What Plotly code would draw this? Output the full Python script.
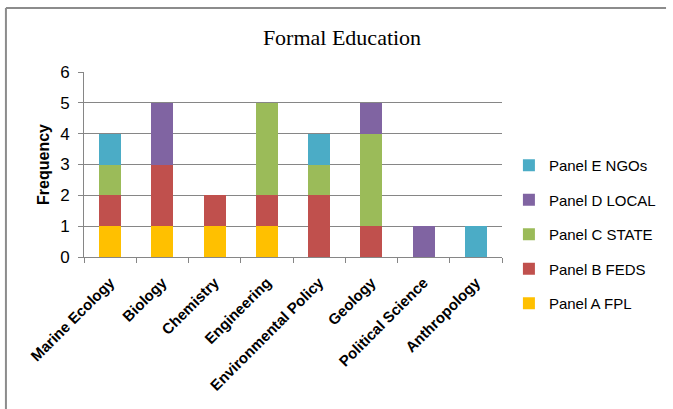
import plotly.graph_objects as go

categories = ["Marine Ecology", "Biology", "Chemistry", "Engineering",
              "Environmental Policy", "Geology", "Political Science", "Anthropology"]
series_names = ["Panel A FPL", "Panel B FEDS", "Panel C STATE", "Panel D LOCAL", "Panel E NGOs"]
panel_a = [1, 1, 1, 1, 0, 0, 0, 0]
panel_b = [1, 2, 1, 1, 2, 1, 0, 0]
panel_c = [1, 0, 0, 3, 1, 3, 0, 0]
panel_d = [0, 2, 0, 0, 0, 1, 1, 0]
panel_e = [1, 0, 0, 0, 1, 0, 0, 1]
colors = ["#FFC000", "#C0504D", "#9BBB59", "#8064A2", "#4BACC6"]
y_ticks = [0, 1, 2, 3, 4, 5, 6]

fig = go.Figure()
n = len(series_names)
for i, (name, vals, col) in enumerate(zip(series_names, [panel_a, panel_b, panel_c, panel_d, panel_e], colors)):
    fig.add_trace(go.Bar(x=categories, y=vals, name=name, legendgroup=name, legendrank=n - i,
                         marker=dict(color=col, line=dict(width=0))))

# plot area pixel geometry
L, R, T, B = 84, 507, 72, 257
W, H = 673, 409
pw, ph = R - L, B - T

def px_x(p):
    return (p - L) / pw

def px_y(p):
    return (B - p) / ph

fig.update_layout(
    width=W, height=H,
    margin=dict(l=L, r=W - R, t=T, b=H - B),
    barmode="stack",
    bargap=0.58,
    plot_bgcolor="white",
    paper_bgcolor="white",
    title=dict(text="Formal Education", xref="container", x=342 / W, xanchor="center",
               yref="container", y=1 - 37 / H, yanchor="middle",
               font=dict(family="Liberation Serif", size=22, color="#000000")),
    legend=dict(traceorder="grouped", x=px_x(514), xanchor="left", y=px_y(149), yanchor="top",
                font=dict(family="Liberation Sans", size=15, color="#000000"),
                itemwidth=30, tracegroupgap=12, bgcolor="rgba(0,0,0,0)"),
    font=dict(family="Liberation Sans", color="#000000"),
    showlegend=True,
)
fig.update_yaxes(
    range=[0, 6], tickvals=y_ticks, showgrid=True, gridcolor="#868686", gridwidth=1,
    showline=True, linecolor="#868686", linewidth=1, ticks="outside", ticklen=5,
    tickcolor="#868686", tickfont=dict(family="Liberation Sans", size=17, color="#000000"),
    ticklabelstandoff=5,
    title=dict(text="<b>Frequency</b>", font=dict(family="Liberation Sans", size=16, color="#000000"), standoff=6),
    zeroline=False,
)
fig.update_xaxes(
    tickangle=-45, showline=True, linecolor="#868686", linewidth=1,
    ticks="outside", tickson="boundaries", ticklen=5, tickcolor="#868686",
    tickfont=dict(family="Liberation Sans", size=15, color="#000000"),
    tickprefix="<b>", ticksuffix="</b>", ticklabelstandoff=10,
)
# chart frame (top and left edges)
fig.add_shape(type="line", xref="paper", yref="paper", x0=px_x(5), x1=px_x(673), y0=px_y(8), y1=px_y(8),
              line=dict(color="#8C8C8C", width=2))
fig.add_shape(type="line", xref="paper", yref="paper", x0=px_x(5), x1=px_x(5), y0=px_y(8), y1=px_y(409),
              line=dict(color="#8C8C8C", width=2))

fig.write_html("out.html")
